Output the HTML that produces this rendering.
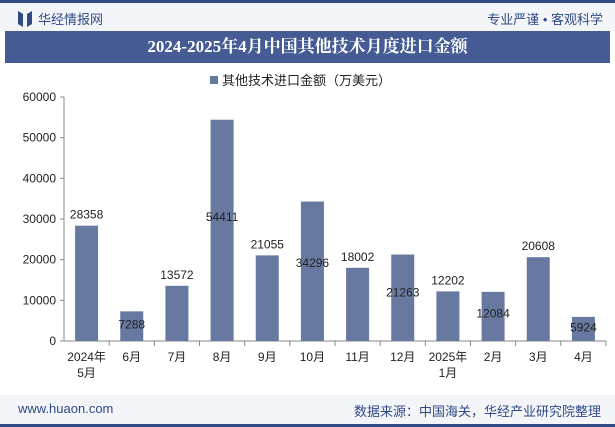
<!DOCTYPE html>
<html><head><meta charset="utf-8"><style>
body{margin:0;width:615px;height:427px;overflow:hidden;background:#fff;font-family:"Liberation Sans","Noto Sans CJK SC",sans-serif;position:relative}
.hdr{position:absolute;left:0;top:0;width:615px;height:31px;background:#f3f5f9;border-top:3px solid #2f4a85;box-sizing:border-box}
.title{position:absolute;left:5px;top:31px;width:605px;height:32px;background:#445c93;color:#fff;font:bold 17px "Liberation Serif","Noto Serif CJK SC",serif;text-align:center;line-height:32px}
.ftr{position:absolute;left:0;top:395px;width:615px;height:32px;background:#f3f5f9;border-bottom:3px solid #2f4a85;box-sizing:border-box}
</style></head><body>
<div class="hdr">
<svg style="position:absolute;left:18px;top:8px" width="14" height="16"><path d="M0 0L5 3V16L0 13Z M14 0L9 3V16L14 13Z" fill="#2f4a85"/></svg>
<span style="position:absolute;left:38px;top:6px;font-size:13px;color:#2f4a85">华经情报网</span>
<span style="position:absolute;right:12px;top:6px;font-size:13px;color:#2f4a85">专业严谨 • 客观科学</span>
</div>
<div class="title">2024-2025年4月中国其他技术月度进口金额</div>
<svg id="c" width="615" height="427" style="position:absolute;left:0;top:0"></svg>
<div class="ftr">
<span style="position:absolute;left:18px;top:6px;font-size:13px;color:#2f4a85">www.huaon.com</span>
<span style="position:absolute;right:14px;top:6px;font-size:13px;color:#2f4a85">数据来源：中国海关，华经产业研究院整理</span>
</div>
<script>
const categories=["2024年\n5月","6月","7月","8月","9月","10月","11月","12月","2025年\n1月","2月","3月","4月"];
const values=[28358,7288,13572,54411,21055,34296,18002,21263,12202,12084,20608,5924];
const yTicks=[0,10000,20000,30000,40000,50000,60000];
const NS="http://www.w3.org/2000/svg",svg=document.getElementById('c');
const x0=64,x1=606,base=341,top0=97,yMax=60000;
const step=(x1-x0)/categories.length,bw=23;
const y=v=>base-(base-top0)*v/yMax;
const xc=i=>x0+step*(i+0.5);
function mk(t,a,txt){const e=document.createElementNS(NS,t);for(const k in a)e.setAttribute(k,a[k]);if(txt!=null)e.textContent=txt;svg.appendChild(e);return e;}
let e=mk('rect',{x:210,y:76,width:8,height:8,fill:'#6779a0'});

e=mk('text',{x:222,y:85,'font-size':13,fill:'#222'},'其他技术进口金额（万美元）');

e=mk('line',{x1:x0,y1:top0,x2:x0,y2:base,stroke:'#888'});

e=mk('line',{x1:x0,y1:base,x2:x1,y2:base,stroke:'#888'});

yTicks.forEach(t=>{
 e=mk('line',{x1:x0-4,y1:y(t),x2:x0,y2:y(t),stroke:'#888'});
 
 e=mk('text',{x:x0-8,y:y(t)+4,'font-size':12,fill:'#222','text-anchor':'end'},t);
 
});
values.forEach((v,i)=>{
 e=mk('line',{x1:x0+step*(i+1),y1:base,x2:x0+step*(i+1),y2:base+5,stroke:'#888'});
 
 e=mk('rect',{x:xc(i)-bw/2,y:y(v),width:bw,height:base-y(v),fill:'#6779a0'});
 
 const H=base-y(v);
 const ly=i%2==0?y(v)-7:base-Math.max(H*0.56,9)+4;
 e=mk('text',{x:xc(i),y:ly,'font-size':12,fill:'#222','text-anchor':'middle'},v);
 
 categories[i].split('\n').forEach((s,k)=>{
  e=mk('text',{x:xc(i),y:361+k*16,'font-size':12,fill:'#222','text-anchor':'middle'},s);
  
 });
});
</script>
</body></html>
